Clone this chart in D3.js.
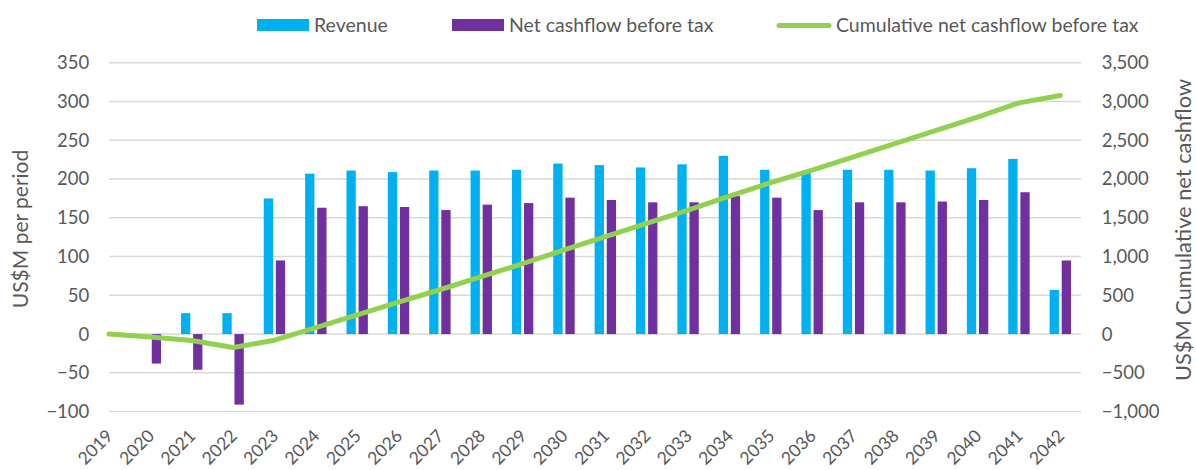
<!DOCTYPE html>
<html>
<head>
<meta charset="utf-8">
<script src="https://cdn.jsdelivr.net/npm/d3@7"></script>
<style>
  body { margin: 0; background: #fff; }
  text { font-family: Lato, "Open Sans", sans-serif; fill: #595959; }
</style>
</head>
<body>
<div id="chart"></div>
<script>
// chart data
var years = ['2019', '2020', '2021', '2022', '2023', '2024', '2025', '2026', '2027', '2028', '2029', '2030',
  '2031', '2032', '2033', '2034', '2035', '2036', '2037', '2038', '2039', '2040', '2041', '2042']
var revenue = [0, 0, 27, 27, 175, 207, 211, 209, 211, 211, 212, 220, 218, 215, 219, 230, 212, 209, 212, 212, 211, 214, 226, 57]
var netCashflow = [0, -38, -46, -91, 95, 163, 165, 164, 160, 167, 169, 176, 173, 170, 170, 178, 176, 160, 170, 170, 171, 173, 183, 95]
var cumulative = [0, -37, -83, -174, -79, 84, 249, 412, 572, 740, 908, 1085, 1258, 1428, 1600, 1780, 1955, 2115, 2285, 2456, 2627, 2800, 2983, 3078]
var leftTicks = [-100, -50, 0, 50, 100, 150, 200, 250, 300, 350]
var rightTicks = [-1000, -500, 0, 500, 1000, 1500, 2000, 2500, 3000, 3500]
var seriesNames = ['Revenue', 'Net cashflow before tax', 'Cumulative net cashflow before tax']

var width = 1196, height = 470
var plotLeft = 109, plotRight = 1081

var blue = '#00B0F0', purple = '#7030A0', green = '#92D050'

var svg = d3.select('#chart')
  .append('svg')
  .attr('width', width)
  .attr('height', height)

// first category sits on the left edge, so the band starts half a band before it
var bw = (plotRight - plotLeft) / (years.length - 0.5)
var x = d3.scaleBand()
  .domain(years)
  .range([plotLeft - bw / 2, plotRight])
var cx = function(d) { return x(d) + x.bandwidth() / 2 }

var y = d3.scaleLinear().domain([-100, 350]).range([411.6, 62.8])
var y2 = d3.scaleLinear().domain([-1000, 3500]).range([411.6, 62.8])

// gridlines
svg.append('g')
  .selectAll('line')
  .data(leftTicks)
  .enter()
  .append('line')
  .attr('x1', plotLeft)
  .attr('x2', plotRight)
  .attr('y1', function(d) { return y(d) })
  .attr('y2', function(d) { return y(d) })
  .style('stroke', '#D9D9D9')
  .style('stroke-width', 1.5)

// axes
svg.append('g')
  .attr('transform', 'translate(' + plotLeft + ',0)')
  .call(d3.axisLeft(y).tickValues(leftTicks).tickSize(0).tickPadding(19.7))
svg.append('g')
  .attr('transform', 'translate(' + plotRight + ',0)')
  .call(d3.axisRight(y2).tickValues(rightTicks).tickSize(0).tickPadding(20.7).tickFormat(d3.format(',')))
svg.selectAll('.domain').remove()
svg.selectAll('.tick text')
  .attr('font-size', 18.5)
  .attr('font-family', null)
  .attr('fill', null)

// bars
var barW = 9.3
var bars = svg.append('g')
bars.selectAll('rect.rev')
  .data(years)
  .enter()
  .append('rect')
  .attr('class', 'rev')
  .attr('x', function(d) { return cx(d) - 10.7 })
  .attr('width', barW)
  .attr('y', function(d, i) { return y(Math.max(0, revenue[i])) })
  .attr('height', function(d, i) { return Math.abs(y(revenue[i]) - y(0)) })
  .style('fill', blue)
bars.selectAll('rect.net')
  .data(years)
  .enter()
  .append('rect')
  .attr('class', 'net')
  .attr('x', function(d) { return cx(d) + 1.4 })
  .attr('width', barW)
  .attr('y', function(d, i) { return y(Math.max(0, netCashflow[i])) })
  .attr('height', function(d, i) { return Math.abs(y(netCashflow[i]) - y(0)) })
  .style('fill', purple)

// cumulative line on the right axis
var line = d3.line()
  .x(function(d, i) { return cx(years[i]) })
  .y(function(d) { return y2(d) })
svg.append('path')
  .datum(cumulative)
  .attr('d', line)
  .style('fill', 'none')
  .style('stroke', green)
  .style('stroke-width', 5)
  .style('stroke-linejoin', 'round')
  .style('stroke-linecap', 'round')

// x labels
svg.append('g')
  .selectAll('text')
  .data(years)
  .enter()
  .append('text')
  .attr('transform', function(d) { return 'translate(' + (cx(d) + 5) + ',437) rotate(-45)' })
  .attr('text-anchor', 'end')
  .attr('font-size', 17.5)
  .text(function(d) { return d })

// axis titles
svg.append('text')
  .attr('transform', 'translate(27.5,229) rotate(-90)')
  .attr('text-anchor', 'middle')
  .attr('font-size', 21)
  .text('US$M per period')
svg.append('text')
  .attr('transform', 'translate(1190.5,230) rotate(-90)')
  .attr('text-anchor', 'middle')
  .attr('font-size', 21.8)
  .text('US$M Cumulative net cashflow')

// legend
var legend = svg.append('g')
legend.append('rect').attr('x', 257).attr('y', 19).attr('width', 52).attr('height', 12).style('fill', blue)
legend.append('text').attr('x', 314).attr('y', 31.5).attr('font-size', 19.5).text(seriesNames[0])
legend.append('rect').attr('x', 452).attr('y', 19).attr('width', 52).attr('height', 12).style('fill', purple)
legend.append('text').attr('x', 509).attr('y', 31.5).attr('font-size', 19.5).text(seriesNames[1])
legend.append('line')
  .attr('x1', 779).attr('x2', 829).attr('y1', 25.5).attr('y2', 25.5)
  .style('stroke', green).style('stroke-width', 5).style('stroke-linecap', 'round')
legend.append('text').attr('x', 836).attr('y', 31.5).attr('font-size', 19.5).text(seriesNames[2])
</script>
</body>
</html>
